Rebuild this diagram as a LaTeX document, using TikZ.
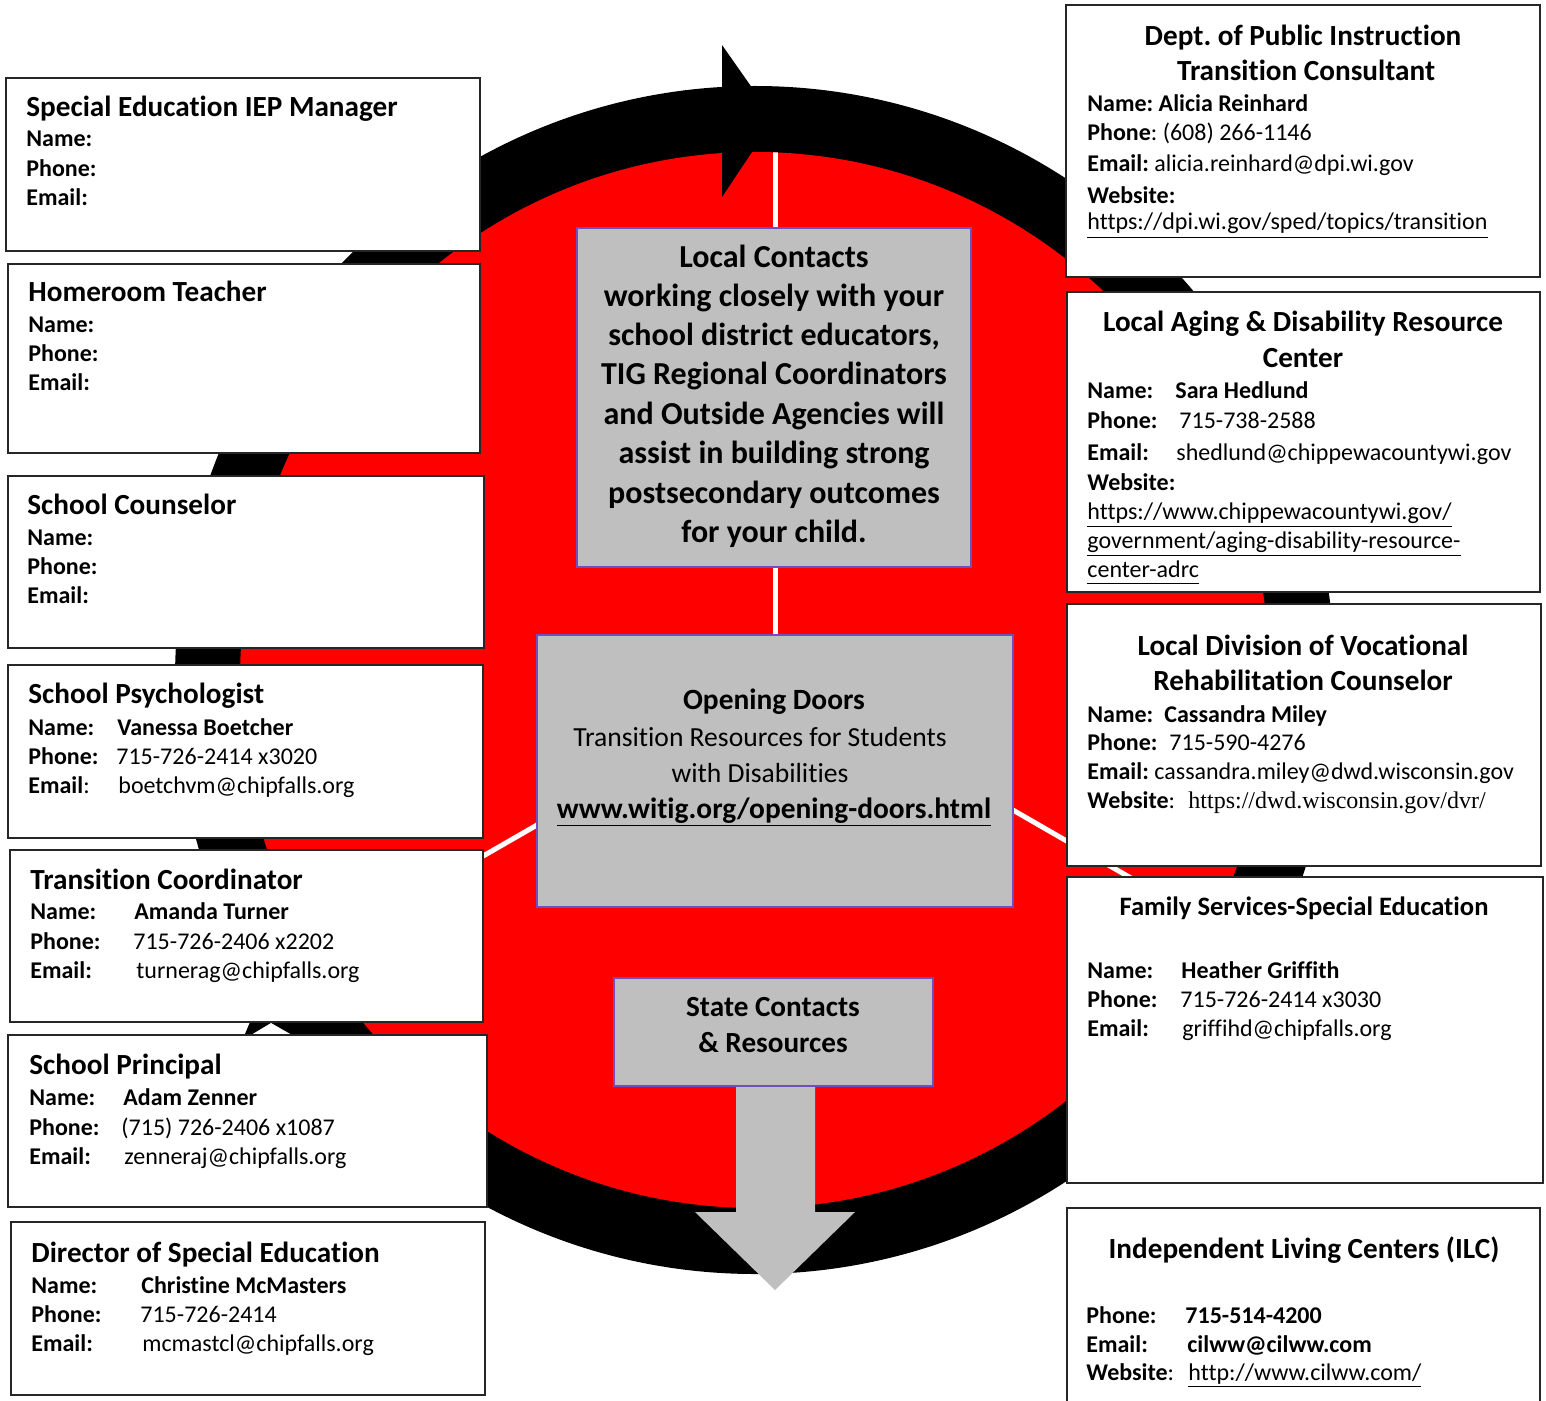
\documentclass[tikz,border=0pt]{standalone}
\usepackage{fontspec}
\setmainfont{Carlito}[Ligatures=NoCommon]
\newfontfamily\urlserif{Liberation Serif}
\frenchspacing
\definecolor{ringred}{RGB}{255,0,0}
\definecolor{boxgray}{RGB}{191,191,191}
\definecolor{boxline}{RGB}{112,80,190}
\tikzset{
 cbox/.style={draw=black!85, line width=1.2pt, fill=white},
 gbox/.style={draw=boxline, line width=0.6pt, fill=boxgray},
 ttl/.style={inner sep=0pt, font=\fontsize{14.6}{17}\selectfont\bfseries},
 bdy/.style={inner sep=0pt, font=\fontsize{12}{14}\selectfont},
 bdb/.style={inner sep=0pt, font=\fontsize{12}{14}\selectfont\bfseries},
 wline/.style={white, line width=2.5pt},
 lc/.style={inner sep=0pt, anchor=base, font=\fontsize{16}{19}\selectfont\bfseries},
 od/.style={inner sep=0pt, anchor=base, font=\fontsize{13.8}{16}\selectfont},
 odb/.style={inner sep=0pt, anchor=base, font=\fontsize{14.7}{17}\selectfont\bfseries},
}
\newcommand\Lt[4]{\node[ttl,anchor=base west] (#1) at (#2,#3) {#4};}
\newcommand\Ct[4]{\node[ttl,anchor=base] (#1) at (#2,#3) {#4};}
\newcommand\Lb[4]{\node[bdb,anchor=base west] (#1) at (#2,#3) {#4};}
\newcommand\Lr[4]{\node[bdy,anchor=base west] (#1) at (#2,#3) {#4};}
\newcommand\myul[1]{\underline{#1\vphantom{p}}}
\begin{document}
\begin{tikzpicture}[x=0.5pt,y=-0.5pt]
\useasboundingbox (0,0) rectangle (1546,1401);
\clip (0,0) rectangle (1546,1401);
\fill[white] (0,0) rectangle (1546,1401);
% ring
\fill[black] (755,680) ellipse [x radius=290pt, y radius=297pt];
\fill[ringred] (755,680) ellipse [x radius=257.5pt, y radius=264pt];
\begin{scope}
 \clip (755,680) ellipse [x radius=257.5pt, y radius=264pt];
 \draw[wline] (775,680) -- (775,100);
 \draw[wline] (775,688) -- (200,1019);
 \draw[wline] (775,673) -- (1400,1033);
\end{scope}
% arrow head
\fill[black] (722,45) -- (774,119) -- (722,197) -- cycle;
% small tail notch
\fill[black] (245,1034) -- (250,1022) -- (292,1022) -- (292,1034) -- cycle;
\fill[white] (251,1035) -- (292,1035) -- (271,1023) -- cycle;
% gray arrow
\fill[boxgray] (736,1080) -- (815,1080) -- (815,1212) -- (855,1212) -- (775,1290) -- (695,1212) -- (736,1212) -- cycle;
% center boxes
\draw[gbox] (577,228) rectangle (971,567);
\draw[gbox] (537,635) rectangle (1013,907);
\draw[gbox] (614,978) rectangle (933,1086);
% left boxes
\draw[cbox] (6,78) rectangle (480,251);
\draw[cbox] (8,264) rectangle (480,453);
\draw[cbox] (8,476) rectangle (484,648);
\draw[cbox] (8,665) rectangle (483,838);
\draw[cbox] (10,850) rectangle (483,1022);
\draw[cbox] (8,1035) rectangle (487,1207);
\draw[cbox] (11,1222) rectangle (485,1395);
% right boxes
\draw[cbox] (1066,5) rectangle (1540,277);
\draw[cbox] (1067,292) rectangle (1540,592);
\draw[cbox] (1067,604) rectangle (1541,866);
\draw[cbox] (1067,877) rectangle (1543,1183);
\draw[cbox] (1067,1208) rectangle (1540,1420);
% ---- left texts
\Lt{t1}{26}{117}{Special Education IEP Manager}
\Lb{n1}{26}{147}{Name:}
\Lb{p1}{26}{177}{Phone:}
\Lb{e1}{26}{206}{Email:}
\Lt{t2}{28}{302}{Homeroom Teacher}
\Lb{n2}{28}{333}{Name:}
\Lb{p2}{28}{362}{Phone:}
\Lb{e2}{28}{391}{Email:}
\Lt{t3}{27}{514}{School Counselor}
\Lb{n3}{27}{545}{Name:}
\Lb{p3}{27}{574}{Phone:}
\Lb{e3}{27}{603}{Email:}
\Lt{t4}{28}{703}{School Psychologist}
\Lb{n4}{28}{735}{Name:}
\Lb{nv4}{117}{735}{Vanessa Boetcher}
\Lb{p4}{28}{764}{Phone:}
\Lr{pv4}{116}{764}{715-726-2414 x3020}
\Lr{e4}{28}{793}{\textbf{Email}:}
\Lr{ev4}{118}{793}{boetchvm@chipfalls.org}
\Lt{t5}{30}{889}{Transition Coordinator}
\Lb{n5}{30}{919}{Name:}
\Lb{nv5}{134}{919}{Amanda Turner}
\Lb{p5}{30}{949}{Phone:}
\Lr{pv5}{133}{949}{715-726-2406 x2202}
\Lb{e5}{30}{978}{Email:}
\Lr{ev5}{136}{978}{turnerag@chipfalls.org}
\Lt{t6}{29}{1074}{School Principal}
\Lb{n6}{29}{1105}{Name:}
\Lb{nv6}{123}{1105}{Adam Zenner}
\Lb{p6}{29}{1135}{Phone:}
\Lr{pv6}{121}{1135}{(715) 726-2406 x1087}
\Lb{e6}{29}{1164}{Email:}
\Lr{ev6}{124}{1164}{zenneraj@chipfalls.org}
\Lt{t7}{31}{1262}{Director of Special Education}
\Lb{n7}{31}{1293}{Name:}
\Lb{nv7}{141}{1293}{Christine McMasters}
\Lb{p7}{31}{1322}{Phone:}
\Lr{pv7}{140}{1322}{715-726-2414}
\Lb{e7}{31}{1351}{Email:}
\Lr{ev7}{142}{1351}{mcmastcl@chipfalls.org}
% ---- right texts
\Ct{t8a}{1303}{46}{Dept. of Public Instruction}
\Ct{t8b}{1306}{81}{Transition Consultant}
\Lb{n8}{1087}{112}{Name: Alicia Reinhard}
\Lr{p8}{1087}{141}{\textbf{Phone}: (608) 266-1146}
\Lr{e8}{1087}{172}{\textbf{Email:} alicia.reinhard@dpi.wi.gov}
\Lb{w8}{1087}{204}{Website:}
\Lr{u8}{1087}{230}{\myul{https://dpi.wi.gov/sped/topics/transition}}
\Ct{t9a}{1303}{332}{Local Aging \& Disability Resource}
\Ct{t9b}{1303}{368}{Center}
\Lb{n9}{1087}{399}{Name:}
\Lb{nv9}{1175}{399}{Sara Hedlund}
\Lb{p9}{1087}{429}{Phone:}
\Lr{pv9}{1179}{429}{715-738-2588}
\Lb{e9}{1087}{460}{Email:}
\Lr{ev9}{1176}{460}{shedlund@chippewacountywi.gov}
\Lb{w9}{1087}{490}{Website:}
\Lr{u9a}{1087}{519}{\myul{https://www.chippewacountywi.gov/}}
\Lr{u9b}{1087}{548}{\myul{government/aging-disability-resource-}}
\Lr{u9c}{1087}{577}{\myul{center-adrc}}
\Ct{t10a}{1303}{655}{Local Division of Vocational}
\Ct{t10b}{1303}{690}{Rehabilitation Counselor}
\Lb{n10}{1087}{722}{Name:}
\Lb{nv10}{1164}{722}{Cassandra Miley}
\Lb{p10}{1087}{750}{Phone:}
\Lr{pv10}{1169}{750}{715-590-4276}
\Lb{e10}{1087}{779}{Email:}
\Lr{ev10}{1154}{779}{cassandra.miley@dwd.wisconsin.gov}
\Lr{w10}{1087}{808}{\textbf{Website}:}
\node[bdy,anchor=base west,font=\fontsize{12}{14}\urlserif] (wv10) at (1188,808) {https://dwd.wisconsin.gov/dvr/};
\node[inner sep=0pt,anchor=base,font=\fontsize{13.3}{16}\selectfont\bfseries] (t11) at (1304,915) {Family Services-Special Education};
\Lb{n11}{1087}{978}{Name:}
\Lb{nv11}{1181}{978}{Heather Griffith}
\Lb{p11}{1087}{1007}{Phone:}
\Lr{pv11}{1180}{1007}{715-726-2414 x3030}
\Lb{e11}{1087}{1036}{Email:}
\Lr{ev11}{1182}{1036}{griffihd@chipfalls.org}
\Ct{t12}{1304}{1258}{Independent Living Centers (ILC)}
\Lb{p12}{1086}{1323}{Phone:}
\Lb{pv12}{1185}{1323}{715-514-4200}
\Lb{e12}{1086}{1352}{Email:}
\Lb{ev12}{1187}{1352}{cilww@cilww.com}
\Lr{w12}{1086}{1380}{\textbf{Website}:}
\Lr{wv12}{1188}{1380}{\myul{http://www.cilww.com/}}
% ---- center texts
\node[lc] (lc1) at (774,268) {Local Contacts};
\node[lc] (lc2) at (774,307) {working closely with your};
\node[lc] (lc3) at (774,346) {school district educators,};
\node[lc] (lc4) at (774,385) {TIG Regional Coordinators};
\node[lc] (lc5) at (774,424) {and Outside Agencies will};
\node[lc] (lc6) at (774,463) {assist in building strong};
\node[lc] (lc7) at (774,503) {postsecondary outcomes};
\node[lc] (lc8) at (774,542) {for your child.};
\node[odb] (od1) at (774,709) {Opening Doors};
\node[od] (od2) at (760,746) {Transition Resources for Students};
\node[od] (od3) at (760,782) {with Disabilities};
\node[odb] (od4) at (774,818) {\underline{www.witig.org/opening-doors.html}};
\Ct{sc1}{773}{1016}{State Contacts}
\Ct{sc2}{773}{1052}{\& Resources}
\end{tikzpicture}
\end{document}
